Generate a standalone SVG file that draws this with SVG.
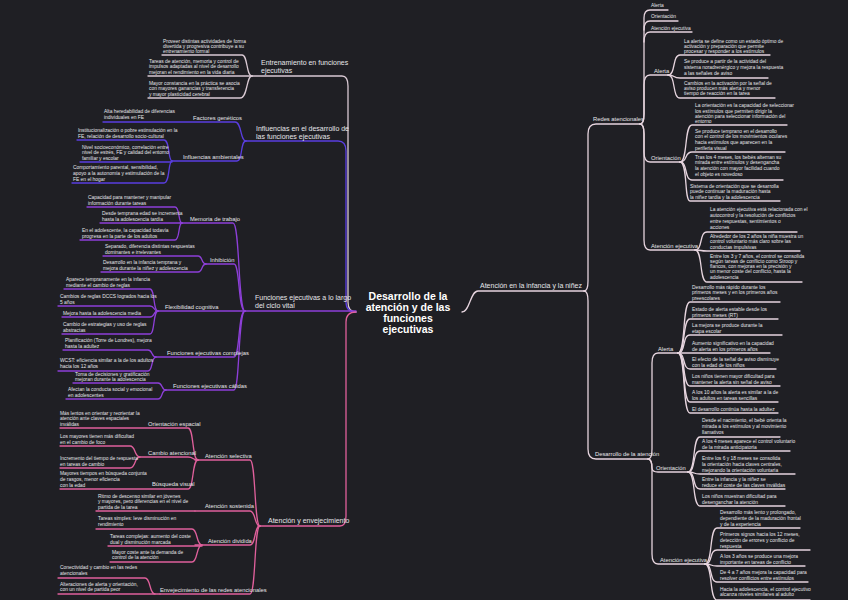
<svg xmlns="http://www.w3.org/2000/svg" width="848" height="600" viewBox="0 0 848 600">
<style>
text{font-family:"Liberation Sans","DejaVu Sans",sans-serif;fill:#e6e6ea}
.t{font-size:4.9px}
.n{font-size:5.8px}
.m{font-size:7px}
.r{font-size:10.5px;font-weight:bold;fill:#fff}
path{fill:none;stroke-width:1.3;stroke-linecap:round}
.w{stroke:#d9c9d3}
.b{stroke:#5a3ee0}
.v{stroke:#8d3fd8}
.p{stroke:#e0609c}
.q{stroke:#e6d4de}
</style>
<rect width="848" height="600" fill="#1f1f24"/>
<g id="connectors">
<path class="w" d="M252 76 H342 Q348 76 348 86 V302 Q348 312 356 312"/>
<path class="b" d="M246 141 H338 Q346 141 346 151 V302 Q346 312 356 312"/>
<path class="v" d="M245 311 H356"/>
<path class="p" d="M258 526 H340 Q346 526 346 516 V322 Q346 312 356 312"/>
<path class="w" d="M162 55 H242 C248 55 246 76 252 76"/>
<path class="w" d="M148 76 H252"/>
<path class="w" d="M148 98 H240 C248 98 246 76 252 76"/>
<path class="b" d="M103 122 H235 C242 122 240 141 246 141"/>
<path class="b" d="M172 161 H237 C243 161 240 141 246 141"/>
<path class="b" d="M77 140 H164 C170 140 168 161 172 161"/>
<path class="b" d="M80 162 H172"/>
<path class="b" d="M72 183 H164 C170 183 168 161 172 161"/>
<path class="v" d="M180 223 H233 C240 223 238 311 245 311"/>
<path class="v" d="M205 264 H234 C240 264 238 311 245 311"/>
<path class="v" d="M158 311 H245"/>
<path class="v" d="M155 357 H234 C240 357 238 311 245 311"/>
<path class="v" d="M165 390 H234 C240 390 238 311 245 311"/>
<path class="v" d="M87 207 H175 C180 207 178 223 182 223"/>
<path class="v" d="M100 223 H182"/>
<path class="v" d="M80 240 H175 C180 240 178 223 182 223"/>
<path class="v" d="M103 256 H198 C203 256 201 264 206 264"/>
<path class="v" d="M101 272 H198 C203 272 201 264 206 264"/>
<path class="v" d="M64 289 H150 C155 289 153 311 158 311"/>
<path class="v" d="M58 306 H150 C155 306 153 311 158 311"/>
<path class="v" d="M62 317 H150 C155 317 153 311 158 311"/>
<path class="v" d="M62 334 H150 C155 334 153 311 158 311"/>
<path class="v" d="M63 350 H148 C153 350 151 357 156 357"/>
<path class="v" d="M58 371 H148 C153 371 151 357 156 357"/>
<path class="v" d="M73 383 H158 C163 383 161 390 166 390"/>
<path class="v" d="M66 399 H158 C163 399 161 390 166 390"/>
<path class="p" d="M195 460 H250 C256 460 254 526 260 526"/>
<path class="p" d="M195 511 H250 C256 511 254 526 260 526"/>
<path class="p" d="M195 545 H250 C256 545 254 526 260 526"/>
<path class="p" d="M160 594 H250 C256 594 254 526 260 526"/>
<path class="p" d="M60 428 H188 C194 428 192 460 198 460"/>
<path class="p" d="M60 446 H130 C136 446 134 457 140 457 H188 C194 457 192 460 198 460"/>
<path class="p" d="M60 468 H130 C136 468 134 457 140 457"/>
<path class="p" d="M60 489 H188 C194 489 192 460 198 460"/>
<path class="p" d="M96 511 H195"/>
<path class="p" d="M96 529 H192 C198 529 196 545 202 545"/>
<path class="p" d="M108 546 H202"/>
<path class="p" d="M110 562 H192 C198 562 196 545 202 545"/>
<path class="p" d="M58 578 H145 C151 578 149 594 155 594"/>
<path class="p" d="M58 594 H160"/>
<path class="q" d="M462 312 C470 312 470 291 478 291 H584"/>
<path class="q" d="M584 291 Q588 291 588 281 V134 Q588 124 596 124 H640"/>
<path class="q" d="M584 291 Q588 291 588 301 V449 Q588 459 596 459 H648"/>
<path class="q" d="M640 124 Q644 124 644 114 V18 Q644 10 650 10 H668"/>
<path class="q" d="M644 30 Q644 21 650 21 H678"/>
<path class="q" d="M644 42 Q644 32 650 32 H692"/>
<path class="q" d="M640 124 Q644 124 644 114 V85 Q644 75 650 75 H668"/>
<path class="q" d="M640 124 Q644 124 644 134 V152 Q644 162 650 162 H680"/>
<path class="q" d="M640 124 Q644 124 644 134 V240 Q644 250 650 250 H695"/>
<path class="q" d="M668 75 C676 75 672 55 680 55 H770"/>
<path class="q" d="M668 75 C676 75 672 78 680 78 H768"/>
<path class="q" d="M668 75 C676 75 672 98 680 98 H775"/>
<path class="q" d="M680 162 C688 162 684 125 692 125 H787"/>
<path class="q" d="M680 162 C688 162 684 152 692 152 H785"/>
<path class="q" d="M680 162 C688 162 684 180 692 180 H783"/>
<path class="q" d="M680 162 C688 162 684 201 690 201 H780"/>
<path class="q" d="M695 250 C703 250 699 232 707 232 H797"/>
<path class="q" d="M695 250 C703 250 699 251 707 251 H800"/>
<path class="q" d="M695 250 C703 250 699 282 707 282 H802"/>
<path class="q" d="M648 459 Q652 459 652 449 V363 Q652 353 658 353 H678"/>
<path class="q" d="M648 459 Q652 459 652 468 Q652 472 658 472 H688"/>
<path class="q" d="M648 459 Q652 459 652 469 V554 Q652 564 658 564 H705"/>
<path class="q" d="M678 353 C686 353 682 302 690 302 H780"/>
<path class="q" d="M678 353 C686 353 682 319 690 319 H778"/>
<path class="q" d="M678 353 C686 353 682 335 690 335 H782"/>
<path class="q" d="M678 353 H770"/>
<path class="q" d="M678 353 C686 353 682 369 690 369 H776"/>
<path class="q" d="M678 353 C686 353 682 386 690 386 H780"/>
<path class="q" d="M678 353 C686 353 682 402 690 402 H778"/>
<path class="q" d="M678 353 C686 353 682 413 690 413 H778"/>
<path class="q" d="M688 472 C696 472 692 437 700 437 H780"/>
<path class="q" d="M688 472 C696 472 692 451 700 451 H790"/>
<path class="q" d="M688 472 C696 472 692 474 700 474 H795"/>
<path class="q" d="M688 472 C696 472 692 489 700 489 H785"/>
<path class="q" d="M688 472 C696 472 692 506 700 506 H785"/>
<path class="q" d="M705 564 C713 564 709 528 717 528 H800"/>
<path class="q" d="M705 564 C713 564 709 550 717 550 H810"/>
<path class="q" d="M705 564 C713 564 709 566 717 566 H805"/>
<path class="q" d="M705 564 C713 564 709 582 717 582 H808"/>
<path class="q" d="M705 564 C713 564 709 600 717 600 H810"/>
</g>
<g id="root"><text class="r" x="408" y="300" text-anchor="middle">Desarrollo de la</text><text class="r" x="408" y="311" text-anchor="middle">atención y de las</text><text class="r" x="408" y="322" text-anchor="middle">funciones</text><text class="r" x="408" y="333" text-anchor="middle">ejecutivas</text></g>
<g id="b1"><text class="m" x="261" y="65">Entrenamiento en funciones</text><text class="m" x="261" y="73">ejecutivas</text>
<text class="t" x="163" y="43">Proveer distintas actividades de forma</text><text class="t" x="163" y="48">divertida y progresiva contribuye a su</text><text class="t" x="163" y="53">entrenamiento formal</text>
<text class="t" x="149" y="63">Tareas de atención, memoria y control de</text><text class="t" x="149" y="68">impulsos adaptadas al nivel de desarrollo</text><text class="t" x="149" y="74">mejoran el rendimiento en la vida diaria</text>
<text class="t" x="149" y="85">Mayor constancia en la práctica se asocia</text><text class="t" x="149" y="90">con mayores ganancias y transferencia</text><text class="t" x="149" y="96">y mayor plasticidad cerebral</text></g>
<g id="b2"><text class="m" x="256" y="131">Influencias en el desarrollo de</text><text class="m" x="256" y="139">las funciones ejecutivas</text>
<text class="n" x="193" y="120">Factores genéticos</text><text class="t" x="104" y="113">Alta heredabilidad de diferencias</text><text class="t" x="104" y="119">individuales en FE</text>
<text class="n" x="183" y="159">Influencias ambientales</text>
<text class="t" x="78" y="132">Institucionalización o pobre estimulación en la</text><text class="t" x="78" y="138">FE, relación de desarrollo socio-cultural</text>
<text class="t" x="82" y="149">Nivel socioeconómico, correlación entre</text><text class="t" x="82" y="154">nivel de estrés, FE y calidad del entorno</text><text class="t" x="82" y="160">familiar y escolar</text>
<text class="t" x="73" y="169">Comportamiento parental, sensibilidad,</text><text class="t" x="73" y="175">apoyo a la autonomía y estimulación de la</text><text class="t" x="73" y="181">FE en el hogar</text></g>
<g id="b3"><text class="m" x="255" y="300">Funciones ejecutivas a lo largo</text><text class="m" x="255" y="308">del ciclo vital</text>
<text class="n" x="190" y="221">Memoria de trabajo</text>
<text class="t" x="88" y="199">Capacidad para mantener y manipular</text><text class="t" x="88" y="205">información durante tareas</text>
<text class="t" x="102" y="215">Desde temprana edad se incrementa</text><text class="t" x="102" y="221">hasta la adolescencia tardía</text>
<text class="t" x="82" y="232">En el adolescente, la capacidad todavía</text><text class="t" x="82" y="238">progresa en la parte de los adultos</text>
<text class="n" x="210" y="262">Inhibición</text>
<text class="t" x="105" y="248">Separado, diferencia distintas respuestas</text><text class="t" x="105" y="254">dominantes e irrelevantes</text>
<text class="t" x="103" y="264">Desarrollo en la infancia temprana y</text><text class="t" x="103" y="270">mejora durante la niñez y adolescencia</text>
<text class="n" x="165" y="309">Flexibilidad cognitiva</text>
<text class="t" x="66" y="281">Aparece tempranamente en la infancia</text><text class="t" x="66" y="287">mediante el cambio de reglas</text>
<text class="t" x="60" y="298">Cambios de reglas DCCS logrados hacia los</text><text class="t" x="60" y="304">5 años</text>
<text class="t" x="63" y="315">Mejora hasta la adolescencia media</text>
<text class="t" x="63" y="326">Cambio de estrategias y uso de reglas</text><text class="t" x="63" y="332">abstractas</text>
<text class="n" x="167" y="355">Funciones ejecutivas complejas</text>
<text class="t" x="65" y="342">Planificación (Torre de Londres), mejora</text><text class="t" x="65" y="348">hasta la adultez</text>
<text class="t" x="60" y="362">WCST: eficiencia similar a la de los adultos</text><text class="t" x="60" y="368">hacia los 12 años</text>
<text class="n" x="173" y="388">Funciones ejecutivas cálidas</text>
<text class="t" x="75" y="376">Toma de decisiones y gratificación</text><text class="t" x="75" y="381">mejoran durante la adolescencia</text>
<text class="t" x="68" y="391">Afectan la conducta social y emocional</text><text class="t" x="68" y="397">en adolescentes</text></g>
<g id="b4"><text class="m" x="268" y="523">Atención y envejecimiento</text>
<text class="n" x="205" y="458">Atención selectiva</text>
<text class="n" x="148" y="426">Orientación espacial</text><text class="t" x="60" y="415">Más lentos en orientar y reorientar la</text><text class="t" x="60" y="420">atención ante claves espaciales</text><text class="t" x="60" y="426">inválidas</text>
<text class="n" x="148" y="455">Cambio atencional</text><text class="t" x="60" y="438">Los mayores tienen más dificultad</text><text class="t" x="60" y="444">en el cambio de foco</text>
<text class="t" x="60" y="460">Incremento del tiempo de respuesta</text><text class="t" x="60" y="466">en tareas de cambio</text>
<text class="n" x="152" y="486">Búsqueda visual</text><text class="t" x="60" y="475">Mayores tiempos en búsqueda conjunta</text><text class="t" x="60" y="481">de rasgos, menor eficiencia</text><text class="t" x="60" y="487">con la edad</text>
<text class="n" x="205" y="508">Atención sostenida</text><text class="t" x="98" y="498">Ritmo de descenso similar en jóvenes</text><text class="t" x="98" y="503">y mayores, pero diferencias en el nivel de</text><text class="t" x="98" y="509">partida de la tarea</text>
<text class="n" x="208" y="543">Atención dividida</text>
<text class="t" x="98" y="520">Tareas simples: leve disminución en</text><text class="t" x="98" y="526">rendimiento</text>
<text class="t" x="110" y="538">Tareas complejas: aumento del coste</text><text class="t" x="110" y="544">dual y disminución marcada</text>
<text class="t" x="112" y="554">Mayor coste ante la demanda de</text><text class="t" x="112" y="559">control de la atención</text>
<text class="n" x="160" y="592">Envejecimiento de las redes atencionales</text>
<text class="t" x="60" y="569">Conectividad y cambio en las redes</text><text class="t" x="60" y="575">atencionales</text>
<text class="t" x="60" y="586">Alteraciones de alerta y orientación,</text><text class="t" x="60" y="591">con un nivel de partida peor</text></g>
<g id="r1"><text class="m" x="480" y="288">Atención en la infancia y la niñez</text>
<text class="n" x="593" y="121">Redes atencionales</text>
<text class="t" x="651" y="7">Alerta</text><text class="t" x="651" y="18">Orientación</text><text class="t" x="651" y="30">Atención ejecutiva</text>
<text class="n" x="654" y="73">Alerta</text>
<text class="t" x="684" y="43">La alerta se define como un estado óptimo de</text><text class="t" x="684" y="48">activación y preparación que permite</text><text class="t" x="684" y="53">procesar y responder a los estímulos</text>
<text class="t" x="684" y="63">Se produce a partir de la actividad del</text><text class="t" x="684" y="69">sistema noradrenérgico y mejora la respuesta</text><text class="t" x="684" y="75">a las señales de aviso</text>
<text class="t" x="684" y="85">Cambios en la activación por la señal de</text><text class="t" x="684" y="90">aviso producen más alerta y menor</text><text class="t" x="684" y="95">tiempo de reacción en la tarea</text>
<text class="n" x="651" y="160">Orientación</text>
<text class="t" x="695" y="107">La orientación es la capacidad de seleccionar</text><text class="t" x="695" y="113">los estímulos que permiten dirigir la</text><text class="t" x="695" y="118">atención para seleccionar información del</text><text class="t" x="695" y="123">entorno</text>
<text class="t" x="695" y="133">Se produce temprano en el desarrollo</text><text class="t" x="695" y="138">con el control de los movimientos oculares</text><text class="t" x="695" y="144">hacia estímulos que aparecen en la</text><text class="t" x="695" y="150">periferia visual</text>
<text class="t" x="695" y="159">Tras los 4 meses, los bebés alternan su</text><text class="t" x="695" y="164">mirada entre estímulos y desengancha</text><text class="t" x="695" y="170">la atención con mayor facilidad cuando</text><text class="t" x="695" y="176">el objeto es novedoso</text>
<text class="t" x="690" y="188">Sistema de orientación que se desarrolla</text><text class="t" x="690" y="193">puede continuar la maduración hasta</text><text class="t" x="690" y="199">la niñez tardía y la adolescencia</text>
<text class="n" x="651" y="248">Atención ejecutiva</text>
<text class="t" x="710" y="211">La atención ejecutiva está relacionada con el</text><text class="t" x="710" y="217">autocontrol y la resolución de conflictos</text><text class="t" x="710" y="223">entre respuestas, sentimientos o</text><text class="t" x="710" y="229">acciones</text>
<text class="t" x="710" y="238">Alrededor de los 2 años la niña muestra un</text><text class="t" x="710" y="243">control voluntario más claro sobre las</text><text class="t" x="710" y="249">conductas impulsivas</text>
<text class="t" x="710" y="258">Entre los 3 y 7 años, el control se consolida</text><text class="t" x="710" y="263">según tareas de conflicto como Stroop y</text><text class="t" x="710" y="268">flancos, con mejoras en la precisión y</text><text class="t" x="710" y="273">un menor coste del conflicto, hasta la</text><text class="t" x="710" y="279">adolescencia</text></g>
<g id="r2"><text class="n" x="595" y="456">Desarrollo de la atención</text>
<text class="n" x="658" y="351">Alerta</text>
<text class="t" x="692" y="289">Desarrollo más rápido durante los</text><text class="t" x="692" y="294">primeros meses y en los primeros años</text><text class="t" x="692" y="300">preescolares</text>
<text class="t" x="692" y="311">Estado de alerta estable desde los</text><text class="t" x="692" y="317">primeros meses (RT)</text>
<text class="t" x="692" y="327">La mejora se produce durante la</text><text class="t" x="692" y="333">etapa escolar</text>
<text class="t" x="692" y="345">Aumento significativo en la capacidad</text><text class="t" x="692" y="351">de alerta en los primeros años</text>
<text class="t" x="692" y="361">El efecto de la señal de aviso disminuye</text><text class="t" x="692" y="367">con la edad de los niños</text>
<text class="t" x="692" y="378">Los niños tienen mayor dificultad para</text><text class="t" x="692" y="384">mantener la alerta sin señal de aviso</text>
<text class="t" x="692" y="394">A los 10 años la alerta es similar a la de</text><text class="t" x="692" y="400">los adultos en tareas sencillas</text>
<text class="t" x="692" y="411">El desarrollo continúa hasta la adultez</text>
<text class="n" x="656" y="470">Orientación</text>
<text class="t" x="702" y="422">Desde el nacimiento, el bebé orienta la</text><text class="t" x="702" y="428">mirada a los estímulos y al movimiento</text><text class="t" x="702" y="434">llamativos</text>
<text class="t" x="702" y="443">A los 4 meses aparece el control voluntario</text><text class="t" x="702" y="449">de la mirada anticipatoria</text>
<text class="t" x="702" y="460">Entre los 6 y 18 meses se consolida</text><text class="t" x="702" y="466">la orientación hacia claves centrales,</text><text class="t" x="702" y="472">mejorando la orientación voluntaria</text>
<text class="t" x="702" y="481">Entre la infancia y la niñez se</text><text class="t" x="702" y="487">reduce el coste de las claves inválidas</text>
<text class="t" x="702" y="498">Los niños muestran dificultad para</text><text class="t" x="702" y="504">desenganchar la atención</text>
<text class="n" x="660" y="562">Atención ejecutiva</text>
<text class="t" x="720" y="514">Desarrollo más lento y prolongado,</text><text class="t" x="720" y="520">dependiente de la maduración frontal</text><text class="t" x="720" y="526">y de la experiencia</text>
<text class="t" x="720" y="536">Primeros signos hacia los 12 meses,</text><text class="t" x="720" y="542">detección de errores y conflicto de</text><text class="t" x="720" y="548">respuesta</text>
<text class="t" x="720" y="558">A los 3 años se produce una mejora</text><text class="t" x="720" y="564">importante en tareas de conflicto</text>
<text class="t" x="720" y="574">De 4 a 7 años mejora la capacidad para</text><text class="t" x="720" y="580">resolver conflictos entre estímulos</text>
<text class="t" x="720" y="591">Hacia la adolescencia, el control ejecutivo</text><text class="t" x="720" y="596">alcanza niveles similares al adulto</text></g>
</svg>
